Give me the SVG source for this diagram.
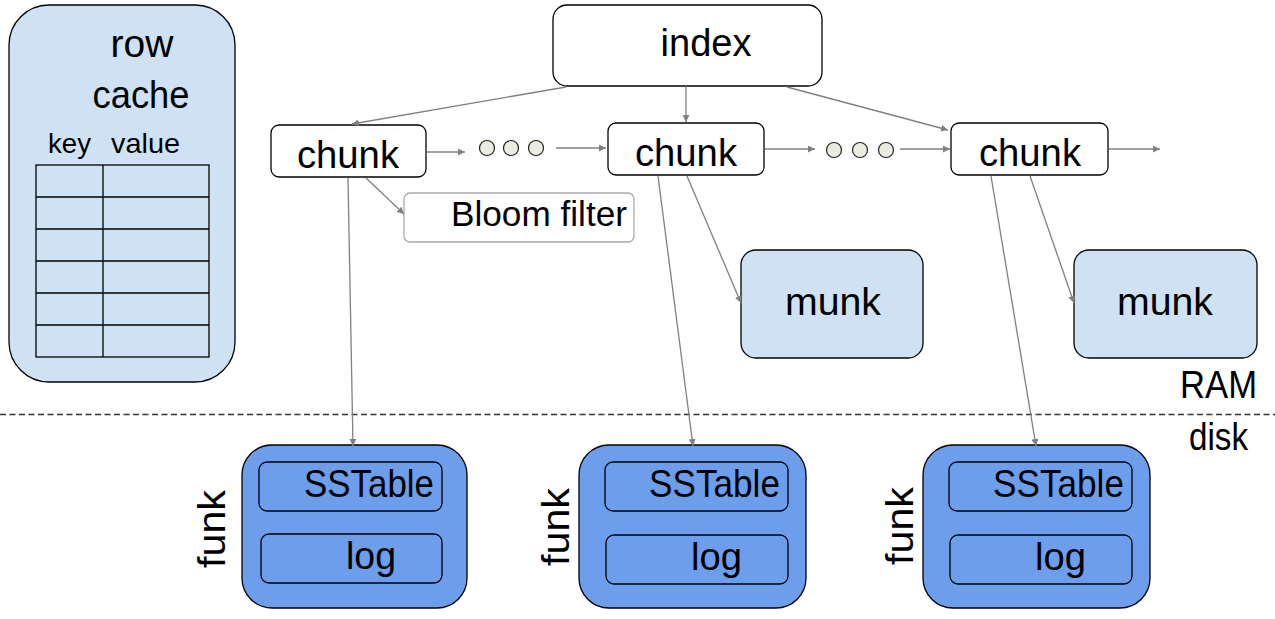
<svg xmlns="http://www.w3.org/2000/svg" width="1275" height="619" viewBox="0 0 1275 619">
<defs>
<marker id="ah" viewBox="0 0 10 10" refX="10" refY="5" markerWidth="7" markerHeight="7" markerUnits="userSpaceOnUse" orient="auto">
<path d="M0,0 L10,5 L0,10 z" fill="#808080"/>
</marker>
</defs>
<style>
text{font-family:"Liberation Sans",Arial,sans-serif;fill:#000}
.big{font-size:39px}
.lb{fill:#cfe2f3;stroke:#000;stroke-width:1.3}
.wb{fill:#fff;stroke:#000;stroke-width:1.3}
.db{fill:#6d9eeb;stroke:#000;stroke-width:1.3}
.conn{stroke:#808080;stroke-width:1.3;fill:none;marker-end:url(#ah)}
.tl{stroke:#000;stroke-width:1.3;fill:none}
.dot{fill:#ecebe2;stroke:#222;stroke-width:1.2}
</style>
<rect width="1275" height="619" fill="#fff"/>

<g id="rowcache">
<rect class="lb" x="9" y="5" width="226" height="377" rx="40"/>
<text class="big" x="142" y="57" text-anchor="middle">row</text>
<text class="big" x="141" y="108" text-anchor="middle" textLength="97" lengthAdjust="spacingAndGlyphs">cache</text>
<text x="48" y="153" font-size="28" textLength="43" lengthAdjust="spacingAndGlyphs">key</text>
<text x="111" y="153" font-size="28" textLength="69" lengthAdjust="spacingAndGlyphs">value</text>
<rect class="tl" x="36" y="165" width="173" height="192"/>
<path class="tl" d="M103,165 V357 M36,197 H209 M36,229 H209 M36,261 H209 M36,293 H209 M36,325 H209"/>
</g>

<g id="index">
<rect class="wb" x="553" y="5" width="269" height="81" rx="14"/>
<text class="big" x="706" y="56" text-anchor="middle" textLength="91" lengthAdjust="spacingAndGlyphs">index</text>
</g>

<g id="chunk1">
<rect class="wb" x="271" y="125" width="155" height="52" rx="8"/>
<text class="big" x="348" y="168" text-anchor="middle" textLength="102" lengthAdjust="spacingAndGlyphs">chunk</text>
</g>
<g id="chunk2">
<rect class="wb" x="608" y="123" width="156" height="52" rx="8"/>
<text class="big" x="686" y="166" text-anchor="middle" textLength="102" lengthAdjust="spacingAndGlyphs">chunk</text>
</g>
<g id="chunk3">
<rect class="wb" x="951" y="123" width="157" height="52" rx="8"/>
<text class="big" x="1030" y="166" text-anchor="middle" textLength="102" lengthAdjust="spacingAndGlyphs">chunk</text>
</g>

<g id="dots1">
<circle class="dot" cx="487" cy="148" r="7.5"/>
<circle class="dot" cx="511" cy="148" r="7.5"/>
<circle class="dot" cx="536" cy="148" r="7.5"/>
</g>
<g id="dots2">
<circle class="dot" cx="834" cy="150" r="7.5"/>
<circle class="dot" cx="860" cy="150" r="7.5"/>
<circle class="dot" cx="886" cy="150" r="7.5"/>
</g>

<g id="bloom">
<rect x="404" y="193" width="230" height="49" rx="6" fill="#fff" stroke="#aaaaaa" stroke-width="1.3"/>
<text x="451" y="226" font-size="35" textLength="176" lengthAdjust="spacingAndGlyphs">Bloom filter</text>
</g>

<g id="munk1">
<rect class="lb" x="741" y="250" width="182" height="108" rx="15"/>
<text class="big" x="833" y="315" text-anchor="middle" textLength="96" lengthAdjust="spacingAndGlyphs">munk</text>
</g>
<g id="munk2">
<rect class="lb" x="1074" y="250" width="183" height="108" rx="15"/>
<text class="big" x="1165" y="315" text-anchor="middle" textLength="96" lengthAdjust="spacingAndGlyphs">munk</text>
</g>

<g id="ramdisk">
<text class="big" x="1180" y="398" textLength="77" lengthAdjust="spacingAndGlyphs">RAM</text>
<text class="big" x="1189" y="450" textLength="59" lengthAdjust="spacingAndGlyphs">disk</text>
<line x1="0" y1="414.5" x2="1275" y2="414.5" stroke="#333" stroke-width="1.6" stroke-dasharray="6,3.5"/>
</g>

<g id="funk1">
<rect class="db" x="242" y="445" width="225" height="163" rx="30"/>
<rect class="db" x="259" y="462" width="183" height="49" rx="8"/>
<rect class="db" x="261" y="534" width="181" height="49" rx="8"/>
<text class="big" x="304" y="497" textLength="130" lengthAdjust="spacingAndGlyphs">SSTable</text>
<text class="big" x="346" y="569" textLength="50" lengthAdjust="spacingAndGlyphs">log</text>
<text class="big" transform="translate(225,568) rotate(-90)" textLength="78" lengthAdjust="spacingAndGlyphs">funk</text>
</g>
<g id="funk2">
<rect class="db" x="579" y="445" width="227" height="163" rx="30"/>
<rect class="db" x="605" y="462" width="183" height="49" rx="8"/>
<rect class="db" x="606" y="535" width="182" height="49" rx="8"/>
<text class="big" x="649" y="497" textLength="131" lengthAdjust="spacingAndGlyphs">SSTable</text>
<text class="big" x="691" y="570" textLength="51" lengthAdjust="spacingAndGlyphs">log</text>
<text class="big" transform="translate(569,566) rotate(-90)" textLength="78" lengthAdjust="spacingAndGlyphs">funk</text>
</g>
<g id="funk3">
<rect class="db" x="923" y="445" width="227" height="163" rx="30"/>
<rect class="db" x="949" y="462" width="183" height="49" rx="8"/>
<rect class="db" x="950" y="535" width="182" height="49" rx="8"/>
<text class="big" x="993" y="497" textLength="131" lengthAdjust="spacingAndGlyphs">SSTable</text>
<text class="big" x="1035" y="570" textLength="51" lengthAdjust="spacingAndGlyphs">log</text>
<text class="big" transform="translate(913,565) rotate(-90)" textLength="78" lengthAdjust="spacingAndGlyphs">funk</text>
</g>

<g id="connectors">
<line class="conn" x1="566" y1="87" x2="352" y2="124"/>
<line class="conn" x1="686" y1="86" x2="686" y2="122"/>
<line class="conn" x1="787" y1="87" x2="948" y2="130"/>
<line class="conn" x1="427" y1="152" x2="465" y2="152"/>
<line class="conn" x1="556" y1="148" x2="606" y2="148"/>
<line class="conn" x1="765" y1="149" x2="815" y2="149"/>
<line class="conn" x1="900" y1="149" x2="950" y2="149"/>
<line class="conn" x1="1109" y1="149" x2="1160" y2="149"/>
<line class="conn" x1="366" y1="178" x2="404" y2="214"/>
<line class="conn" x1="348" y1="178" x2="353" y2="446"/>
<line class="conn" x1="658" y1="176" x2="693" y2="446"/>
<line class="conn" x1="687" y1="176" x2="741" y2="303"/>
<line class="conn" x1="991" y1="176" x2="1036" y2="446"/>
<line class="conn" x1="1030" y1="176" x2="1074" y2="303"/>
</g>
</svg>
